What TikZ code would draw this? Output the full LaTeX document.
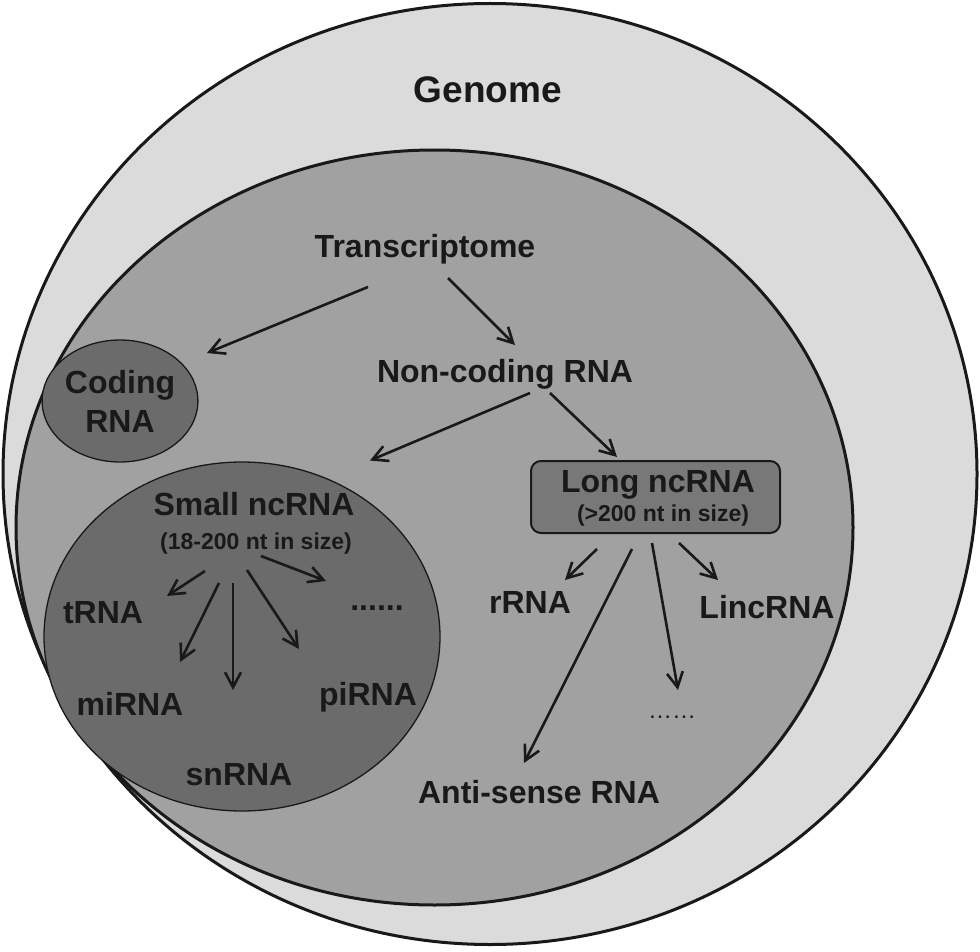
\documentclass[tikz,border=0pt]{standalone}
\usepackage{fontspec}
\setmainfont{Liberation Sans}
\usepackage{tikz}
\usetikzlibrary{positioning,arrows.meta,shapes.geometric}
\definecolor{ink}{gray}{0.1}
\definecolor{genfill}{gray}{0.86}
\definecolor{trfill}{gray}{0.63}
\definecolor{darkfill}{gray}{0.42}
\definecolor{boxfill}{gray}{0.47}
\begin{document}
\begin{tikzpicture}[x=1pt, y=-1pt, >={Straight Barb[length=15pt,width=16pt]},
      lb/.style={font=\fontsize{32}{39}\selectfont\bfseries, text=ink, inner sep=0pt},
      sz/.style={font=\fontsize{23}{27}\selectfont\bfseries, text=ink, inner sep=0pt},
      ring/.style={ellipse, draw=ink, line width=3pt, inner sep=0pt},
      blob/.style={ellipse, draw=ink, line width=1.3pt, fill=darkfill, inner sep=0pt},
      ar/.style={->, draw=ink, line width=2.6pt}]
      \useasboundingbox (0,0) rectangle (980,952);
      % nested sets
      \node[ring, fill=genfill, minimum width=974pt, minimum height=941pt] (gen) at (490,474) {};
      \node[ring, fill=trfill, minimum width=837pt, minimum height=755pt] (trn) at (434.5,527.5) {};
      \node[blob, lb, align=center, minimum width=150pt, minimum height=122pt] (cod) at (120,401) {Coding\\RNA};
      \node[blob, minimum width=396pt, minimum height=349pt] (sml) at (242,636.5) {};
      \node[draw=ink, line width=2pt, rounded corners=10pt, fill=boxfill, minimum width=249pt, minimum height=72pt, inner sep=0pt] (lnc) at (655.5,497) {};
      % labels
      \node[lb, font=\fontsize{37}{44}\selectfont\bfseries, anchor=base] (gnm) at (488,103) {Genome};
      \node[lb, anchor=base] (tr) at (425,258) {Transcriptome};
      \node[lb, anchor=base] (nc) at (505,382) {Non-coding RNA};
      \node[lb, anchor=base] (snc) at (254,515) {Small ncRNA};
      \node[sz, anchor=base] (sncsz) at (256,549) {(18-200 nt in size)};
      \node[lb, anchor=base] (lnct) at (658,492) {Long ncRNA};
      \node[sz, anchor=base] (lncsz) at (663,521) {(>200 nt in size)};
      \node[lb, anchor=base] (trna) at (103,623) {tRNA};
      \node[lb, anchor=base] (mirna) at (130,715) {miRNA};
      \node[lb, anchor=base] (snrna) at (239,785) {snRNA};
      \node[lb, anchor=base] (pirna) at (368,705) {piRNA};
      \node[lb, anchor=base] (sdots) at (377,610) {......};
      \node[lb, anchor=base] (rrna) at (530,613) {rRNA};
      \node[lb, anchor=base] (linc) at (767,618) {LincRNA};
      \node[lb, anchor=base] (anti) at (539,803) {Anti-sense RNA};
      \node[lb, font=\fontsize{24}{28}\selectfont, anchor=base] (ldots) at (672,718) {\textellipsis\textellipsis};
      % arrows
      \draw[ar] ([shift={(-57,29)}]tr.base) -- ([shift={(87,-48)}]cod.center);
      \draw[ar] ([shift={(23,20)}]tr.base) -- ([shift={(10,-37)}]nc.base);
      \draw[ar] ([shift={(25,11)}]nc.base) -- ([shift={(128,-176)}]sml.center);
      \draw[ar] ([shift={(45,11)}]nc.base) -- ([shift={(-38.5,-3)}]lnc.north);
      \draw[ar] ([shift={(-51,22)}]sncsz.base) -- ([shift={(64,-27)}]trna.base);
      \draw[ar] ([shift={(-37,34)}]sncsz.base) -- ([shift={(50,-53)}]mirna.base);
      \draw[ar] ([shift={(-23,34)}]sncsz.base) -- ([shift={(-6,-95)}]snrna.base);
      \draw[ar] ([shift={(-9,21)}]sncsz.base) -- ([shift={(-69,-56)}]pirna.base);
      \draw[ar] ([shift={(5,7)}]sncsz.base) -- ([shift={(-51,-29)}]sdots.base);
      \draw[ar] ([shift={(-58.5,15)}]lnc.south) -- ([shift={(35,-33)}]rrna.base);
      \draw[ar] ([shift={(-23.5,15)}]lnc.south) -- ([shift={(-15,-40)}]anti.base);
      \draw[ar] ([shift={(-3.5,9)}]lnc.south) -- ([shift={(6,-28)}]ldots.base);
      \draw[ar] ([shift={(23.5,9)}]lnc.south) -- ([shift={(-49,-38)}]linc.base);
    \end{tikzpicture}
\end{document}
